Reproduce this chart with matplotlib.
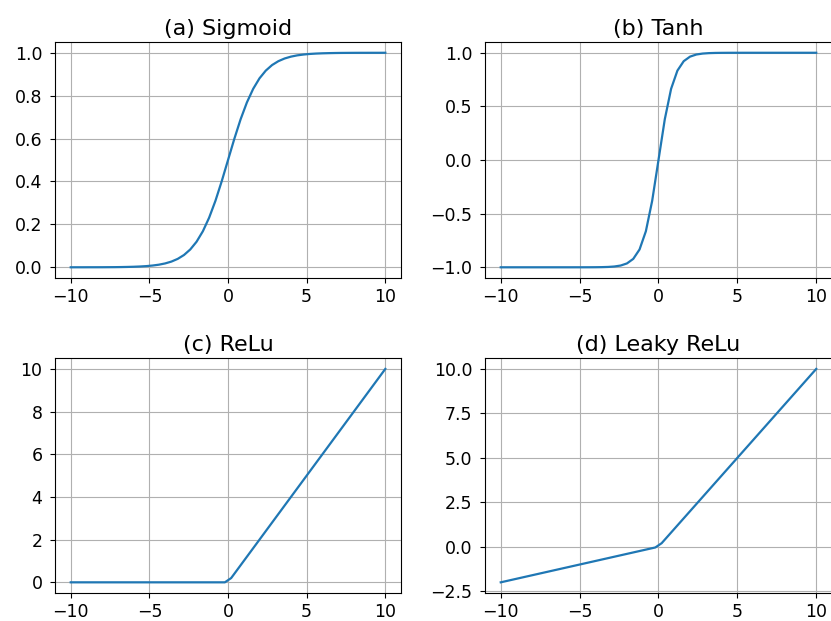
import matplotlib
matplotlib.use('Agg')
import matplotlib.pyplot as plt

# sample points (step 0.4)
x = [-10.0, -9.6, -9.2, -8.8, -8.4, -8.0, -7.6, -7.2, -6.8, -6.4, -6.0, -5.6, -5.2,
     -4.8, -4.4, -4.0, -3.6, -3.2, -2.8, -2.4, -2.0, -1.6, -1.2, -0.8, -0.4, 0.0,
     0.4, 0.8, 1.2, 1.6, 2.0, 2.4, 2.8, 3.2, 3.6, 4.0, 4.4, 4.8, 5.2, 5.6, 6.0,
     6.4, 6.8, 7.2, 7.6, 8.0, 8.4, 8.8, 9.2, 9.6, 10.0]

sigmoid = [0.0000, 0.0001, 0.0001, 0.0002, 0.0002, 0.0003, 0.0005, 0.0007, 0.0011,
           0.0017, 0.0025, 0.0037, 0.0055, 0.0082, 0.0121, 0.0180, 0.0266, 0.0392,
           0.0573, 0.0832, 0.1192, 0.1680, 0.2315, 0.3100, 0.4013, 0.5000,
           0.5987, 0.6900, 0.7685, 0.8320, 0.8808, 0.9168, 0.9427, 0.9608, 0.9734,
           0.9820, 0.9879, 0.9918, 0.9945, 0.9963, 0.9975, 0.9983, 0.9989, 0.9993,
           0.9995, 0.9997, 0.9998, 0.9998, 0.9999, 0.9999, 1.0000]

tanh = [-1.0, -1.0, -1.0, -1.0, -1.0, -1.0, -1.0, -1.0, -1.0, -1.0, -1.0, -1.0,
        -0.9999, -0.9999, -0.9997, -0.9993, -0.9985, -0.9967, -0.9926, -0.9837,
        -0.9640, -0.9217, -0.8337, -0.6640, -0.3800, 0.0,
        0.3800, 0.6640, 0.8337, 0.9217, 0.9640, 0.9837, 0.9926, 0.9967, 0.9985,
        0.9993, 0.9997, 0.9999, 0.9999, 1.0, 1.0, 1.0, 1.0, 1.0, 1.0, 1.0, 1.0,
        1.0, 1.0, 1.0, 1.0]

relu_x = [-10, -0.2, 0.2, 10]
relu = [0, 0, 0.2, 10]

leaky_x = [-10, -0.2, 0.2, 10]
leaky = [-2.0, -0.04, 0.2, 10]

titles = ['(a) Sigmoid', '(b) Tanh', '(c) ReLu', '(d) Leaky ReLu']
xticks = [-10, -5, 0, 5, 10]
leaky_yticks = [-2.5, 0.0, 2.5, 5.0, 7.5, 10.0]

fig = plt.figure(figsize=(8.31, 6.21), dpi=100)

# axes boxes (left, bottom, width, height); right column runs off the edge
boxes = [[0.0662, 0.5523, 0.4164, 0.380],
         [0.5836, 0.5523, 0.4176, 0.380],
         [0.0662, 0.0451, 0.4164, 0.378],
         [0.5836, 0.0451, 0.4176, 0.378]]

data = [(x, sigmoid), (x, tanh), (relu_x, relu), (leaky_x, leaky)]

axes = []
for box, (xs, ys), t in zip(boxes, data, titles):
    ax = fig.add_axes(box)
    ax.plot(xs, ys, color='#1f77b4', lw=1.6)
    ax.set_title(t, fontsize=16, pad=5)
    ax.grid(True, color='#b0b0b0', lw=0.8)
    ax.tick_params(labelsize=12.5)
    ax.tick_params(axis='y', pad=5.5)
    ax.set_xticks(xticks)
    axes.append(ax)

axes[3].set_yticks(leaky_yticks)

fig.savefig('out.png', dpi=100)
